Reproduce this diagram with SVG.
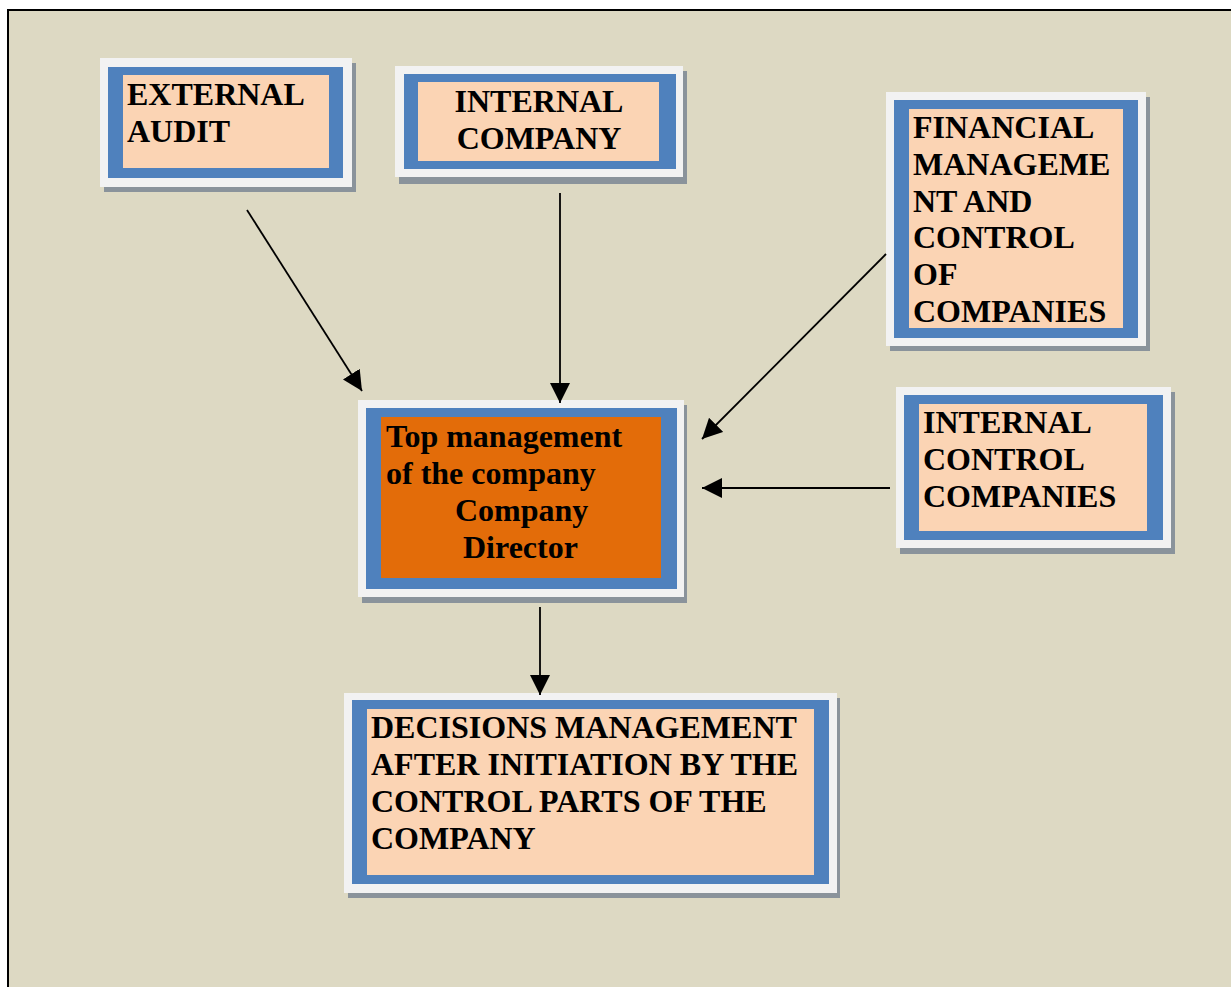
<svg xmlns="http://www.w3.org/2000/svg" width="1231" height="987" viewBox="0 0 1231 987">
<defs>
<style>
.shadow{fill:#8A939B}
.frame{fill:#F2F2F2}
.blue{fill:#4F81BD}
.peach{fill:#FBD4B4}
.orange{fill:#E36C09}
.t{font-family:"Liberation Serif","Times New Roman",serif;font-weight:bold;font-size:32px;fill:#000}
.c{stroke:#000;stroke-width:1.8;fill:none}
</style>
<marker id="ah" viewBox="0 0 20 20" refX="20" refY="10" markerWidth="20" markerHeight="20" markerUnits="userSpaceOnUse" orient="auto">
<path d="M0,0 L20,10 L0,20 Z" fill="#000"/>
</marker>
</defs>
<rect x="0" y="0" width="1231" height="987" fill="#FFFFFF"/>
<rect x="8" y="10" width="1240" height="1000" fill="#DDD9C3" stroke="#000" stroke-width="2"/>

<g id="external-audit">
<rect class="shadow" x="104" y="63" width="252" height="129"/>
<rect class="frame" x="100" y="58" width="252" height="129"/>
<rect class="blue" x="108" y="67" width="235" height="111"/>
<rect class="peach" x="123" y="75" width="206" height="93"/>
<text class="t" x="127" y="105">EXTERNAL</text>
<text class="t" x="127" y="142">AUDIT</text>
</g>

<g id="internal-company">
<rect class="shadow" x="399" y="71" width="288" height="113"/>
<rect class="frame" x="395" y="66" width="288" height="111"/>
<rect class="blue" x="404" y="74" width="272" height="95"/>
<rect class="peach" x="418" y="82" width="241" height="79"/>
<text class="t" x="539" y="112" text-anchor="middle">INTERNAL</text>
<text class="t" x="539" y="149" text-anchor="middle">COMPANY</text>
</g>

<g id="financial-management">
<rect class="shadow" x="890" y="97" width="260" height="254"/>
<rect class="frame" x="886" y="92" width="260" height="254"/>
<rect class="blue" x="894" y="100" width="244" height="238"/>
<rect class="peach" x="909" y="109" width="214" height="219"/>
<text class="t" x="913" y="138">FINANCIAL</text>
<text class="t" x="913" y="175">MANAGEME</text>
<text class="t" x="913" y="212">NT AND</text>
<text class="t" x="913" y="248">CONTROL</text>
<text class="t" x="913" y="285">OF</text>
<text class="t" x="913" y="322">COMPANIES</text>
</g>

<g id="internal-control">
<rect class="shadow" x="900" y="392" width="275" height="162"/>
<rect class="frame" x="896" y="387" width="275" height="161"/>
<rect class="blue" x="904" y="395" width="259" height="145"/>
<rect class="peach" x="919" y="404" width="228" height="127"/>
<text class="t" x="923" y="433">INTERNAL</text>
<text class="t" x="923" y="470">CONTROL</text>
<text class="t" x="923" y="507">COMPANIES</text>
</g>

<g id="top-management">
<rect class="shadow" x="362" y="405" width="325" height="198"/>
<rect class="frame" x="358" y="400" width="326" height="197"/>
<rect class="blue" x="366" y="408" width="311" height="181"/>
<rect class="orange" x="381" y="417" width="280" height="161"/>
<text class="t" x="386" y="447">Top management</text>
<text class="t" x="386" y="484">of the company</text>
<text class="t" x="455" y="521">Company</text>
<text class="t" x="463" y="558">Director</text>
</g>

<g id="decisions">
<rect class="shadow" x="348" y="698" width="492" height="200"/>
<rect class="frame" x="344" y="693" width="493" height="200"/>
<rect class="blue" x="352" y="700" width="477" height="184"/>
<rect class="peach" x="367" y="709" width="447" height="166"/>
<text class="t" x="371" y="738">DECISIONS MANAGEMENT</text>
<text class="t" x="371" y="775">AFTER INITIATION BY THE</text>
<text class="t" x="371" y="812">CONTROL PARTS OF THE</text>
<text class="t" x="371" y="849">COMPANY</text>
</g>

<g id="connectors">
<line class="c" x1="247" y1="210" x2="362" y2="391" marker-end="url(#ah)"/>
<line class="c" x1="560" y1="193" x2="560" y2="403" marker-end="url(#ah)"/>
<line class="c" x1="886" y1="254" x2="702" y2="439" marker-end="url(#ah)"/>
<line class="c" x1="890" y1="488" x2="702" y2="488" marker-end="url(#ah)"/>
<line class="c" x1="540" y1="607" x2="540" y2="695" marker-end="url(#ah)"/>
</g>
</svg>
